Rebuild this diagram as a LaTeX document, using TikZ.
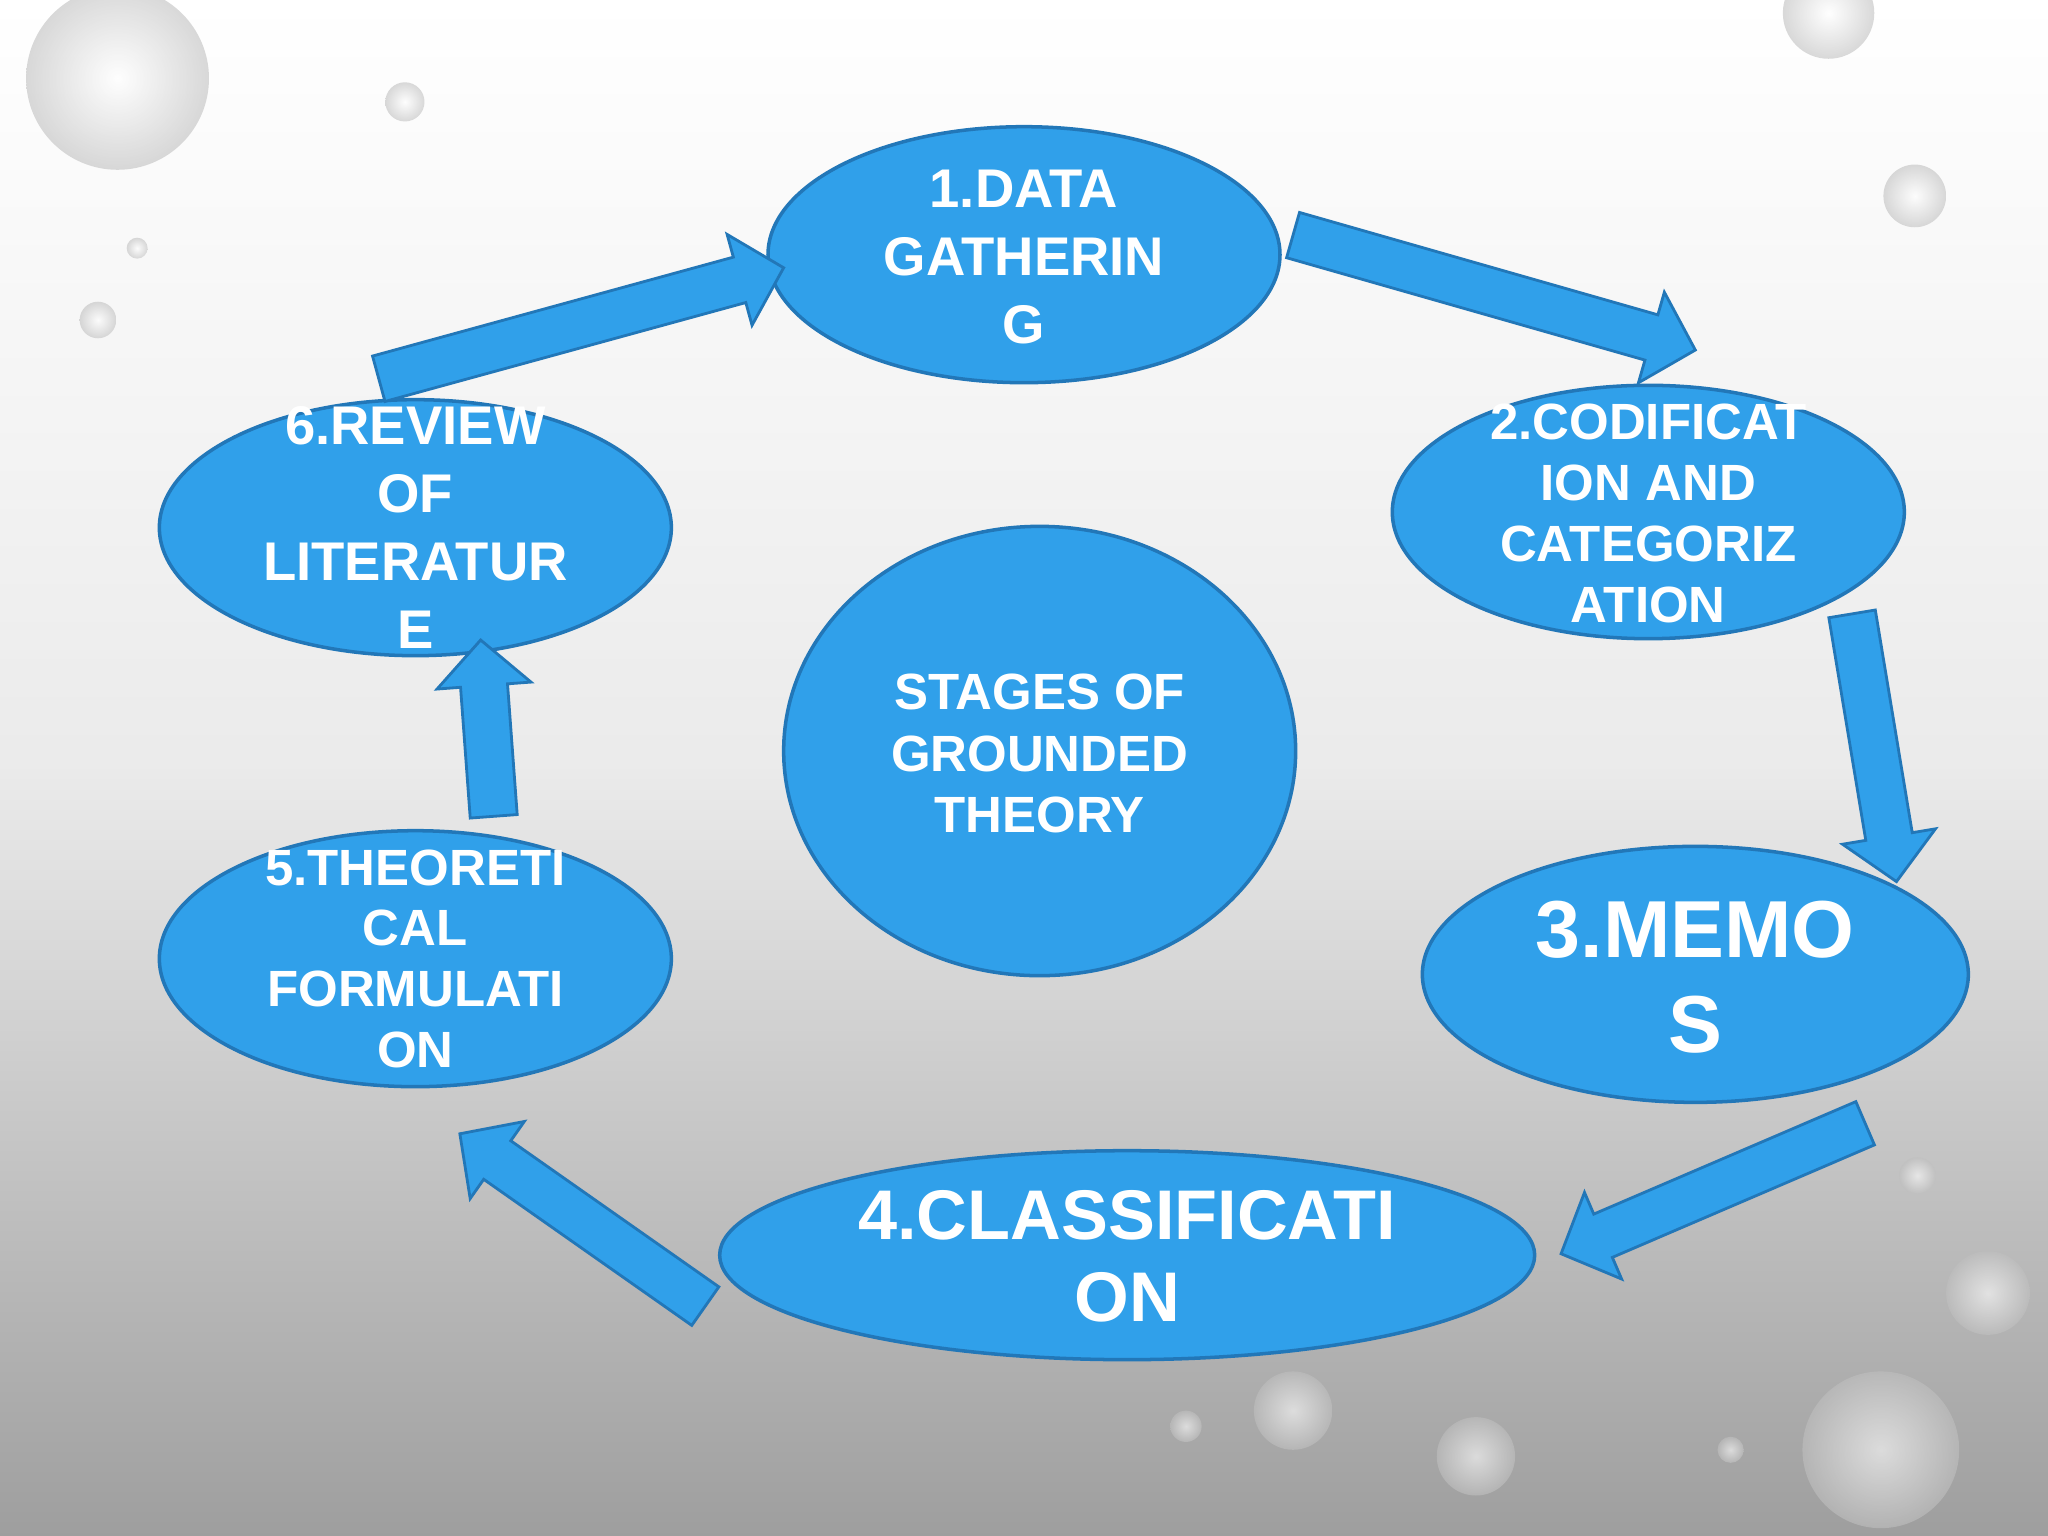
\documentclass[tikz,border=0pt]{standalone}
\usepackage{fontspec}
\setmainfont{Liberation Sans}
\usetikzlibrary{calc,shapes.geometric}
\definecolor{bfill}{HTML}{30A0EA}
\definecolor{bdraw}{HTML}{2277B8}
\tikzset{
  ell/.style={fill=bfill, draw=bdraw, line width=1pt},
  st/.style={text=white, font=\bfseries, align=center, inner sep=0pt},
  blk/.style={fill=bfill, draw=bdraw, line width=0.8pt},
}
\newcommand{\blockarr}[2]{%
  \path let \p1=($(#2)-(#1)$), \n1={atan2(\y1,\x1)}, \n2={veclen(\x1,\y1)} in
    \pgfextra{\xdef\myang{\n1}\xdef\mylen{\n2}};
  \draw[blk, shift={(#1)}, rotate=\myang]
    (0pt,-6.7pt) -- ({(\mylen-13)*1pt},-6.7pt) -- ({(\mylen-13)*1pt},-13.4pt) -- ({\mylen*1pt},0pt)
    -- ({(\mylen-13)*1pt},13.4pt) -- ({(\mylen-13)*1pt},6.7pt) -- (0pt,6.7pt) -- cycle;}
\begin{document}
\begin{tikzpicture}[x=0.01306cm,y=-0.01306cm]
\shade[top color=white, bottom color=black!38, middle color=black!8] (0,0) rectangle (1568,1176);
\useasboundingbox (0,0) rectangle (1568,1176);
\foreach \cx/\cy/\r in {90/60/70, 310/78/15, 75/245/14, 105/190/8, 1466/150/24, 1400/10/35, 1468/900/14, 1522/990/32, 990/1080/30, 1130/1115/30, 908/1092/12, 1325/1110/10, 1440/1110/60}
  \shade[inner color=white, outer color=black!25, opacity=0.6] (\cx,\cy) ellipse ({\r} and {\r});
\path[ell] (784,195) ellipse (196 and 98);
\path[ell] (1262,392) ellipse (196 and 97);
\path[ell] (1298,746) ellipse (209 and 98);
\path[ell] (863,961) ellipse (312 and 80);
\path[ell] (318,734) ellipse (196 and 98);
\path[ell] (318,404) ellipse (196 and 98);
\path[ell] (796,575) ellipse (196 and 172);
\node[st, font=\bfseries\fontsize{15.5}{19.3}\selectfont] (n1) at (784,197) {1.DATA\\GATHERIN\\G};
\node[st, font=\bfseries\fontsize{14.5}{17.3}\selectfont] (n2) at (1262,393) {2.CODIFICAT\\ION AND\\CATEGORIZ\\ATION};
\node[st, font=\bfseries\fontsize{23}{27}\selectfont] (n3) at (1298,748) {3.MEMO\\S};
\node[st, font=\bfseries\fontsize{20}{23.5}\selectfont] (n4) at (863,962) {4.CLASSIFICATI\\ON};
\node[st, font=\bfseries\fontsize{14.5}{17.3}\selectfont] (n5) at (318,734) {5.THEORETI\\CAL\\FORMULATI\\ON};
\node[st, font=\bfseries\fontsize{15.5}{19.3}\selectfont] (n6) at (318,404) {6.REVIEW\\OF\\LITERATUR\\E};
\node[st, font=\bfseries\fontsize{14.5}{17.5}\selectfont] (c) at (796,577) {STAGES OF\\GROUNDED\\THEORY};
\coordinate (a1s) at (290,290); \coordinate (a1e) at (600,205);
\coordinate (a2s) at (990,180); \coordinate (a2e) at (1298,268);
\coordinate (a3s) at (1418,470); \coordinate (a3e) at (1452,675);
\coordinate (a4s) at (1428,860); \coordinate (a4e) at (1195,960);
\coordinate (a5s) at (540,1000); \coordinate (a5e) at (352,868);
\coordinate (a6s) at (378,625); \coordinate (a6e) at (368,490);
\blockarr{a1s}{a1e}
\blockarr{a2s}{a2e}
\blockarr{a3s}{a3e}
\blockarr{a4s}{a4e}
\blockarr{a5s}{a5e}
\blockarr{a6s}{a6e}
\end{tikzpicture}
\end{document}
